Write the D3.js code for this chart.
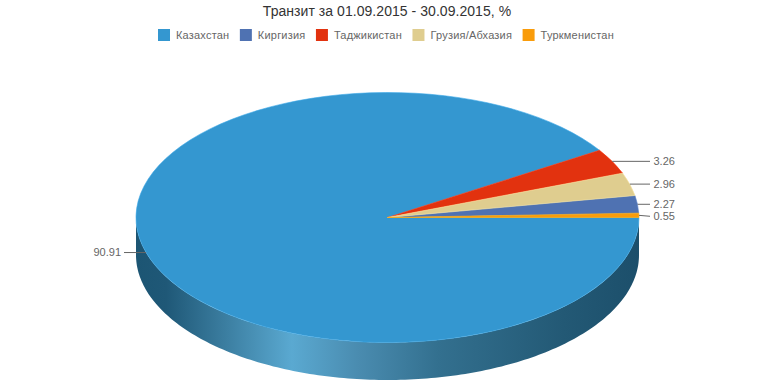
<!DOCTYPE html>
<html>
<head>
<meta charset="utf-8">
<script src="https://cdnjs.cloudflare.com/ajax/libs/d3/7.8.5/d3.min.js"></script>
<style>
  html, body { margin: 0; padding: 0; background: #fff; }
  text { font-family: "Liberation Sans", Arial, sans-serif; }
</style>
</head>
<body>
<div id="chart"></div>
<script>
const titleText = "Транзит за 01.09.2015 - 30.09.2015, %";
const categories = ["Казахстан", "Киргизия", "Таджикистан", "Грузия/Абхазия", "Туркменистан"];
const shares = [90.91, 2.27, 3.26, 2.96, 0.55];
const colors = ["#3497d0", "#4f72b2", "#e2320f", "#dfcd8f", "#f99c0b"];
// slices run clockwise in this order, starting from the east edge
const sliceOrder = ["Казахстан", "Таджикистан", "Грузия/Абхазия", "Киргизия", "Туркменистан"];

const width = 774, height = 387;
const cx = 387.5, cy = 217.5, rx = 251.5, ry = 125, depth = 37.5;

const data = categories.map((name, i) => ({ name, value: shares[i], color: colors[i] }));

const svg = d3.select("#chart").append("svg")
    .attr("width", width)
    .attr("height", height)
    .style("display", "block");

svg.append("text")
    .attr("x", 387)
    .attr("y", 16)
    .attr("text-anchor", "middle")
    .style("font-size", "14px")
    .style("letter-spacing", "0.05px")
    .style("fill", "#333")
    .text(titleText);

// Legend
const legend = svg.append("g").attr("transform", "translate(158,29)");
let legendX = 0;
data.forEach(d => {
    const item = legend.append("g").attr("transform", `translate(${legendX},0)`);
    item.append("rect")
        .attr("width", 12)
        .attr("height", 12)
        .attr("fill", d.color);
    const label = item.append("text")
        .attr("x", 18)
        .attr("y", 9.5)
        .style("font-size", "11px")
        .style("letter-spacing", "0.2px")
        .style("fill", "#666")
        .text(d.name);
    legendX += 18 + label.node().getComputedTextLength() + 10.5;
});

// Side wall, dark at the rims and lighter toward the lower left
const defs = svg.append("defs");
const wallGradient = defs.append("linearGradient")
    .attr("id", "wall")
    .attr("gradientUnits", "userSpaceOnUse")
    .attr("x1", cx - rx).attr("x2", cx + rx)
    .attr("y1", 0).attr("y2", 0);
[[0, "#1c5573"], [0.06, "#1f5877"], [0.16, "#37789a"], [0.31, "#5aa9d1"], [0.44, "#4a8cb0"],
 [0.6, "#33708f"], [0.85, "#235975"], [1, "#1c4f6b"]].forEach(([o, c]) => {
    wallGradient.append("stop").attr("offset", o).attr("stop-color", c);
});

const wallAngles = d3.range(0, 181).map(a => a * Math.PI / 180);
const wall = d3.area()
    .x(a => cx + rx * Math.cos(a))
    .y0(a => cy + ry * Math.sin(a))
    .y1(a => cy + depth + ry * Math.sin(a));
svg.append("path")
    .attr("d", wall(wallAngles))
    .attr("fill", "url(#wall)");

// Top face: unit arcs squashed into an ellipse
const pie = d3.pie()
    .value(d => d.value)
    .sort((a, b) => sliceOrder.indexOf(a.name) - sliceOrder.indexOf(b.name))
    .startAngle(Math.PI / 2)
    .endAngle(Math.PI / 2 + 2 * Math.PI);
const arc = d3.arc().innerRadius(0).outerRadius(1);
const arcs = pie(data);

svg.append("g")
    .attr("transform", `translate(${cx},${cy}) scale(${rx},${ry})`)
    .selectAll("path")
    .data(arcs)
    .enter().append("path")
    .attr("d", arc)
    .attr("fill", d => d.data.color)
    .attr("stroke", d => d3.color(d.data.color).brighter(0.3))
    .attr("stroke-width", 0.6)
    .attr("vector-effect", "non-scaling-stroke");

// Data labels with connectors
const labelEndRight = 650, labelEndLeft = 124;
const labels = arcs.map(d => {
    const mid = (d.startAngle + d.endAngle) / 2;
    const px = cx + rx * Math.sin(mid);
    const py = cy - ry * Math.cos(mid);
    return { px, py, ly: py, value: d.data.value, right: px > cx };
});
// push apart neighbours that would collide
const rightLabels = labels.filter(d => d.right).sort((a, b) => a.py - b.py);
rightLabels.forEach((d, i) => {
    if (i > 0 && d.ly - rightLabels[i - 1].ly < 12) d.ly = rightLabels[i - 1].ly + 12;
});

svg.append("g").selectAll("path")
    .data(labels)
    .enter().append("path")
    .attr("d", d => d3.line()([[d.px, d.py], [d.right ? labelEndRight : labelEndLeft, d.ly]]))
    .attr("fill", "none")
    .attr("stroke", "#666")
    .attr("stroke-width", 1);

svg.append("g").selectAll("text")
    .data(labels)
    .enter().append("text")
    .attr("x", d => d.right ? labelEndRight + 3.5 : labelEndLeft - 3)
    .attr("y", d => d.ly + 3.5)
    .attr("text-anchor", d => d.right ? "start" : "end")
    .style("font-size", "11px")
    .style("fill", "#666")
    .text(d => d.value.toFixed(2));
</script>
</body>
</html>
